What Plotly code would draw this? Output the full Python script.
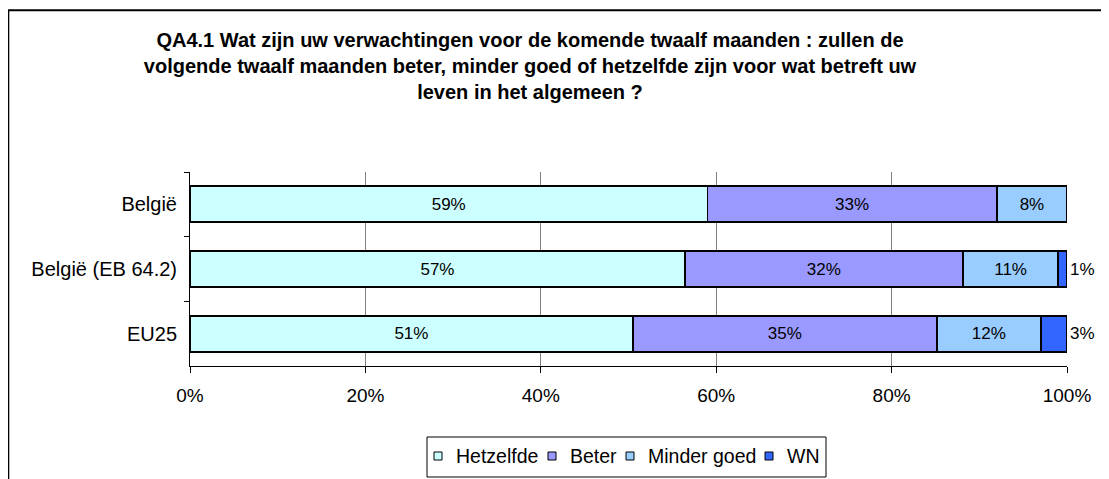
import plotly.graph_objects as go

categories = ["België", "België (EB 64.2)", "EU25"]
hetzelfde = [59, 57, 51]
beter = [33, 32, 35]
minder_goed = [8, 11, 12]
wn = [0, 1, 3]
series_names = ["Hetzelfde", "Beter", "Minder goed", "WN"]
series_colors = ["#CCFFFF", "#9999FF", "#99CCFF", "#3366FF"]
x_ticks = [0, 20, 40, 60, 80, 100]
x_tick_labels = ["0%", "20%", "40%", "60%", "80%", "100%"]
title_lines = [
    "QA4.1 Wat zijn uw verwachtingen voor de komende twaalf maanden : zullen de",
    "volgende twaalf maanden beter, minder goed of hetzelfde zijn voor wat betreft uw",
    "leven in het algemeen ?",
]

# page has an 8px body margin, so the figure is drawn 8px in from the window edge
OFF = 8
W, H = 1109 - OFF, 479 - OFF
ML, MR, MT, MB = 182, 42, 164, 113
PW, PH = W - ML - MR, H - MT - MB
FONT = "Liberation Sans, Arial, sans-serif"


def px2x(px):
    """figure pixel x -> paper x"""
    return (px - ML) / PW


def py2y(py):
    """figure pixel y -> paper y"""
    return (H - MB - py) / PH


fig = go.Figure()
all_series = [hetzelfde, beter, minder_goed, wn]
for i, (name, vals, col) in enumerate(zip(series_names, all_series, series_colors)):
    last = i == len(all_series) - 1
    fig.add_trace(go.Bar(
        y=categories,
        x=vals,
        name=name,
        orientation="h",
        marker=dict(color=col, line=dict(color="black", width=1.8)),
        text=[f"{v}%" if v > 0 else "" for v in vals],
        textposition="outside" if last else "inside",
        insidetextanchor="middle",
        textfont=dict(family=FONT, size=17, color="black"),
        constraintext="none",
        cliponaxis=False,
        hoverinfo="skip",
        showlegend=False,
    ))

# hand-made legend (Excel-style compact legend)
legend_box = dict(x0=419, x1=818, y0=429, y1=469)
legend_text_x = [446, 560, 638, 777]
legend_y = 448
legend_sym = 8
shapes = [
    dict(type="rect", xref="paper", yref="paper",
         x0=px2x(legend_box["x0"]), x1=px2x(legend_box["x1"]),
         y0=py2y(legend_box["y0"]), y1=py2y(legend_box["y1"]),
         line=dict(color="black", width=1), fillcolor="white", layer="below"),
    dict(type="line", xref="paper", yref="paper",
         x0=px2x(0), x1=px2x(W + 5), y0=py2y(2.3), y1=py2y(2.3),
         line=dict(color="black", width=2)),
    dict(type="line", xref="paper", yref="paper",
         x0=px2x(0.3), x1=px2x(0.3), y0=py2y(2.3), y1=py2y(H + 5),
         line=dict(color="black", width=2)),
]
annotations = []
for name, col, tx in zip(series_names, series_colors, legend_text_x):
    cx = tx - 16
    shapes.append(dict(
        type="rect", xref="paper", yref="paper",
        x0=px2x(cx - legend_sym / 2), x1=px2x(cx + legend_sym / 2),
        y0=py2y(legend_y - legend_sym / 2), y1=py2y(legend_y + legend_sym / 2),
        line=dict(color="black", width=1), fillcolor=col))
    annotations.append(dict(
        xref="paper", yref="paper", x=px2x(tx), y=py2y(legend_y),
        xanchor="left", yanchor="middle", showarrow=False, text=name,
        font=dict(family=FONT, size=19.5, color="black")))

fig.update_layout(
    width=W,
    height=H,
    barmode="stack",
    barnorm="percent",
    bargap=0.445,
    paper_bgcolor="white",
    plot_bgcolor="white",
    margin=dict(l=ML, r=MR, t=MT, b=MB, pad=0, autoexpand=False),
    font=dict(family=FONT, size=19, color="black"),
    title=dict(
        text="<br>".join(title_lines),
        font=dict(family=FONT, size=20, color="black", weight="bold"),
        x=522 / W,
        xanchor="center",
        xref="container",
        y=1 - 38.5 / H,
        yanchor="top",
        yref="container",
    ),
    showlegend=False,
    xaxis=dict(
        range=[0, 100],
        tickvals=x_ticks,
        ticktext=x_tick_labels,
        ticks="outside",
        ticklen=6,
        tickcolor="black",
        showline=True,
        linecolor="black",
        linewidth=1,
        showgrid=True,
        gridcolor="#808080",
        gridwidth=1,
        zeroline=False,
        ticklabelstandoff=6,
        tickfont=dict(family=FONT, size=19, color="black"),
        fixedrange=True,
    ),
    yaxis=dict(
        autorange="reversed",
        ticks="outside",
        tickson="boundaries",
        ticklen=5,
        tickcolor="black",
        showline=True,
        linecolor="black",
        linewidth=1,
        showgrid=False,
        ticklabelstandoff=8,
        tickfont=dict(family=FONT, size=20, color="black"),
        fixedrange=True,
    ),
    shapes=shapes,
    annotations=annotations,
)

fig.write_html("out.html")
